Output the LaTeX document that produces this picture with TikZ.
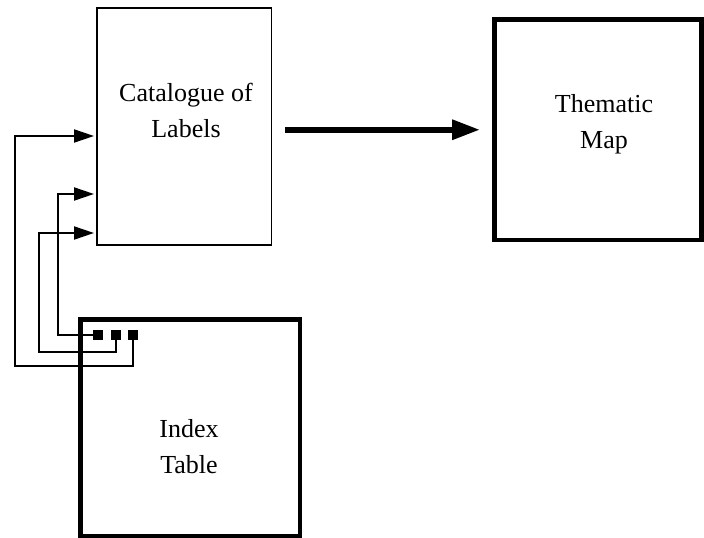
\documentclass[tikz,border=0pt]{standalone}
\usepackage{fontspec}
\setmainfont{Liberation Serif}
\usetikzlibrary{arrows.meta,positioning,calc}

\begin{document}
\begin{tikzpicture}[
			x=1pt, y=-1pt,
			thinbox/.style={draw, rectangle, line width=1.8pt, inner sep=0pt},
			thickbox/.style={draw, rectangle, line width=4.8pt, inner sep=0pt},
			boxtext/.style={align=center, inner sep=0pt, font=\fontsize{26}{36}\selectfont},
			pin/.style={fill, rectangle, minimum size=10pt, inner sep=0pt},
			conn/.style={line width=2pt, -{Triangle[length=20pt, width=13pt]}},
			bigarrow/.style={line width=6pt, -{Triangle[length=28pt, width=19pt]}}
			]
			\useasboundingbox (0,0) rectangle (704,538);
			
			% Boxes
			\node[thinbox, minimum width=174.5pt, minimum height=237pt] (cat) at (184.25,126.5) {};
			\node[thickbox, minimum width=207pt, minimum height=220.5pt] (map) at (598,129.75) {};
			\node[thickbox, minimum width=219.5pt, minimum height=217pt] (idx) at (190.25,428) {};
			
			% Texts
			\node[boxtext] (catText) at (186,110) {Catalogue of\\Labels};
			\node[boxtext] (mapText) at (604,124) {Thematic\\Map};
			\node[boxtext] (idxText) at (189,447) {Index\\Table};
			
			% Index entries
			\node[pin] (sq1) at (98,335) {};
			\node[pin] (sq2) at (116,335) {};
			\node[pin] (sq3) at (133,335) {};
			
			% Arrow ends on the catalogue
			\coordinate (in1) at (94,194);
			\coordinate (in2) at (94,233);
			\coordinate (in3) at (94,136);
			
			% Connectors
			\draw[conn] (sq1) -| (58,194) -- (in1);
			\draw[conn] (sq2) |- (39,352) |- (in2);
			\draw[conn] (sq3) |- (15,366) |- (in3);
			
			\draw[bigarrow, shorten <=13pt, shorten >=12pt] (cat.east |- map.west) -- (map.west);
			
		\end{tikzpicture}
\end{document}
